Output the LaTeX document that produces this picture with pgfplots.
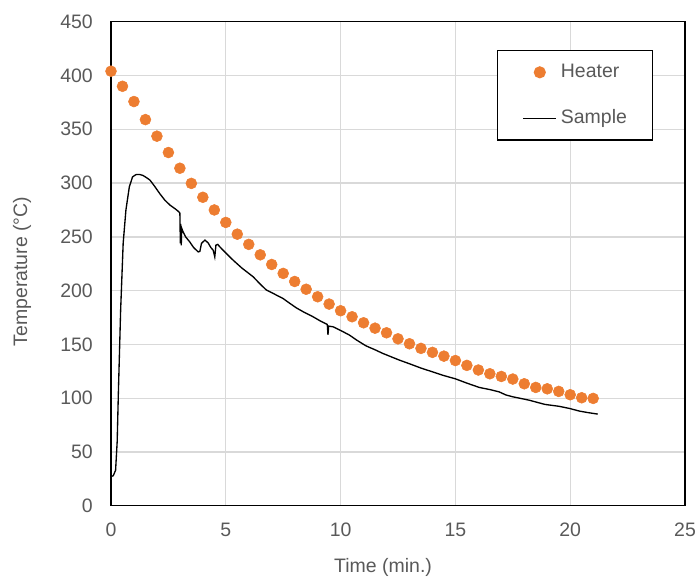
\documentclass[border=0pt]{standalone}
\usepackage{fontspec}
\setmainfont{Liberation Sans}
\usepackage{pgfplots}
\pgfplotsset{compat=1.18}
\definecolor{heater}{HTML}{ED7D31}
\definecolor{gridc}{HTML}{D9D9D9}
\definecolor{txt}{HTML}{595959}
\pgfplotsset{
  heaterleg/.style={legend image code/.code={\draw[mark repeat=2,mark phase=2,##1] plot coordinates {(0pt,0pt) (12.4pt,0pt) (24.75pt,0pt)};}},
  sampleleg/.style={legend image code/.code={\draw[##1] (0pt,0pt) -- (24.75pt,0pt);}},
}
\begin{document}
\begin{tikzpicture}
\useasboundingbox (-83.25pt,-55pt) rectangle (438pt,379.3pt);
\begin{axis}[
  width=430.5pt, height=363pt, scale only axis,
  xmin=0, xmax=25, ymin=0, ymax=450,
  xtick distance=5, ytick distance=50,
  grid=major,
  major grid style={gridc, line width=1pt},
  axis line style={black, line width=1.1pt},
  major tick length=0pt,
  /pgf/number format/assume math mode=true,
  tick label style={font=\fontsize{14.6}{17}\selectfont, text=txt, inner sep=0pt},
  xticklabel style={yshift=-12.75pt},
  yticklabel style={xshift=-13.5pt},
  label style={font=\fontsize{14.6}{17}\selectfont, text=txt},
  xlabel={Time (min.)},
  ylabel={Temperature (°C)},
  xlabel style={at={(rel axis cs:0.474,0)}, anchor=center, yshift=-46.5pt},
  ylabel style={at={(rel axis cs:0,0.484)}, anchor=center, yshift=66.75pt},
  legend style={at={(0.944,0.9415)}, anchor=north east, draw=black, line width=0.9pt,
    font=\fontsize{14.6}{17}\selectfont, text=txt,
    inner xsep=19pt, inner ysep=9.5pt, row sep=21pt, column sep=3pt,
    nodes={inner sep=0pt, text height=10.5pt, text depth=3pt}},
  legend cell align=left,
]
\addplot[only marks, mark=*, mark size=4.1pt, color=heater, heaterleg]
coordinates {
(0,404) (0.5,390) (1.0,375.8) (1.5,359) (2.0,343.6) (2.5,328.4) (3.0,313.8) (3.5,299.7)
(4.0,286.8) (4.5,275) (5.0,263.4) (5.5,252.5) (6.0,243) (6.5,233.3) (7.0,224.3) (7.5,216)
(8.0,208.5) (8.5,201.3) (9.0,194.3) (9.5,187.5) (10,181.3) (10.5,175.7) (11,170.1) (11.5,165.1)
(12,160.8) (12.5,155.2) (13,150.6) (13.5,146.3) (14,142.6) (14.5,139.1) (15,135) (15.5,130.5)
(16,126.2) (16.5,122.7) (17,120.2) (17.5,117.8) (18,113.4) (18.5,110) (19,108.7) (19.5,106.3)
(20,103.2) (20.5,100.4) (21,99.8)
};
\addlegendentry{Heater}
\addplot[black, line width=1pt, no marks, sampleleg]
coordinates {
(0,27) (0.1,28) (0.2,33) (0.27,60) (0.32,104) (0.42,182) (0.53,244) (0.65,275) (0.8,296.7)
(0.94,305.8) (1.1,308) (1.25,308) (1.4,307) (1.55,305) (1.7,302.7) (1.9,297) (2.13,290)
(2.35,284) (2.57,279.5) (2.8,276) (2.96,273.2) (3.0,272) (3.02,244) (3.04,262) (3.06,242)
(3.08,258) (3.14,254.6) (3.25,250) (3.43,245.3) (3.6,240) (3.8,236) (3.87,236.5) (3.94,243.9)
(4.09,247) (4.23,244.4) (4.35,240) (4.45,237.6) (4.52,231.4) (4.57,242.3) (4.65,243) (4.74,240.7)
(5.0,235) (5.32,228.3) (5.7,221) (6.19,212.9) (6.5,206) (6.77,200.5) (7.1,197) (7.49,192.7)
(7.8,188) (8.07,184) (8.4,180) (8.8,175.7) (9.1,172) (9.42,168.5) (9.45,159) (9.48,167)
(9.67,166.4) (10,163) (10.39,158.6) (10.7,154) (11.1,148.7) (11.5,145) (11.84,141.6)
(12.2,138.5) (12.56,135.4) (13,132) (13.5,128) (14,124.5) (14.5,121) (15,118) (15.5,114)
(16.04,110) (16.5,108) (16.9,105.9) (17.2,103) (17.5,101.3) (18.2,98.2) (18.9,94.2)
(19.5,92.5) (19.96,90.5) (20.4,88) (20.8,86.5) (21.2,85.2)
};
\addlegendentry{Sample}
\end{axis}
\end{tikzpicture}
\end{document}
